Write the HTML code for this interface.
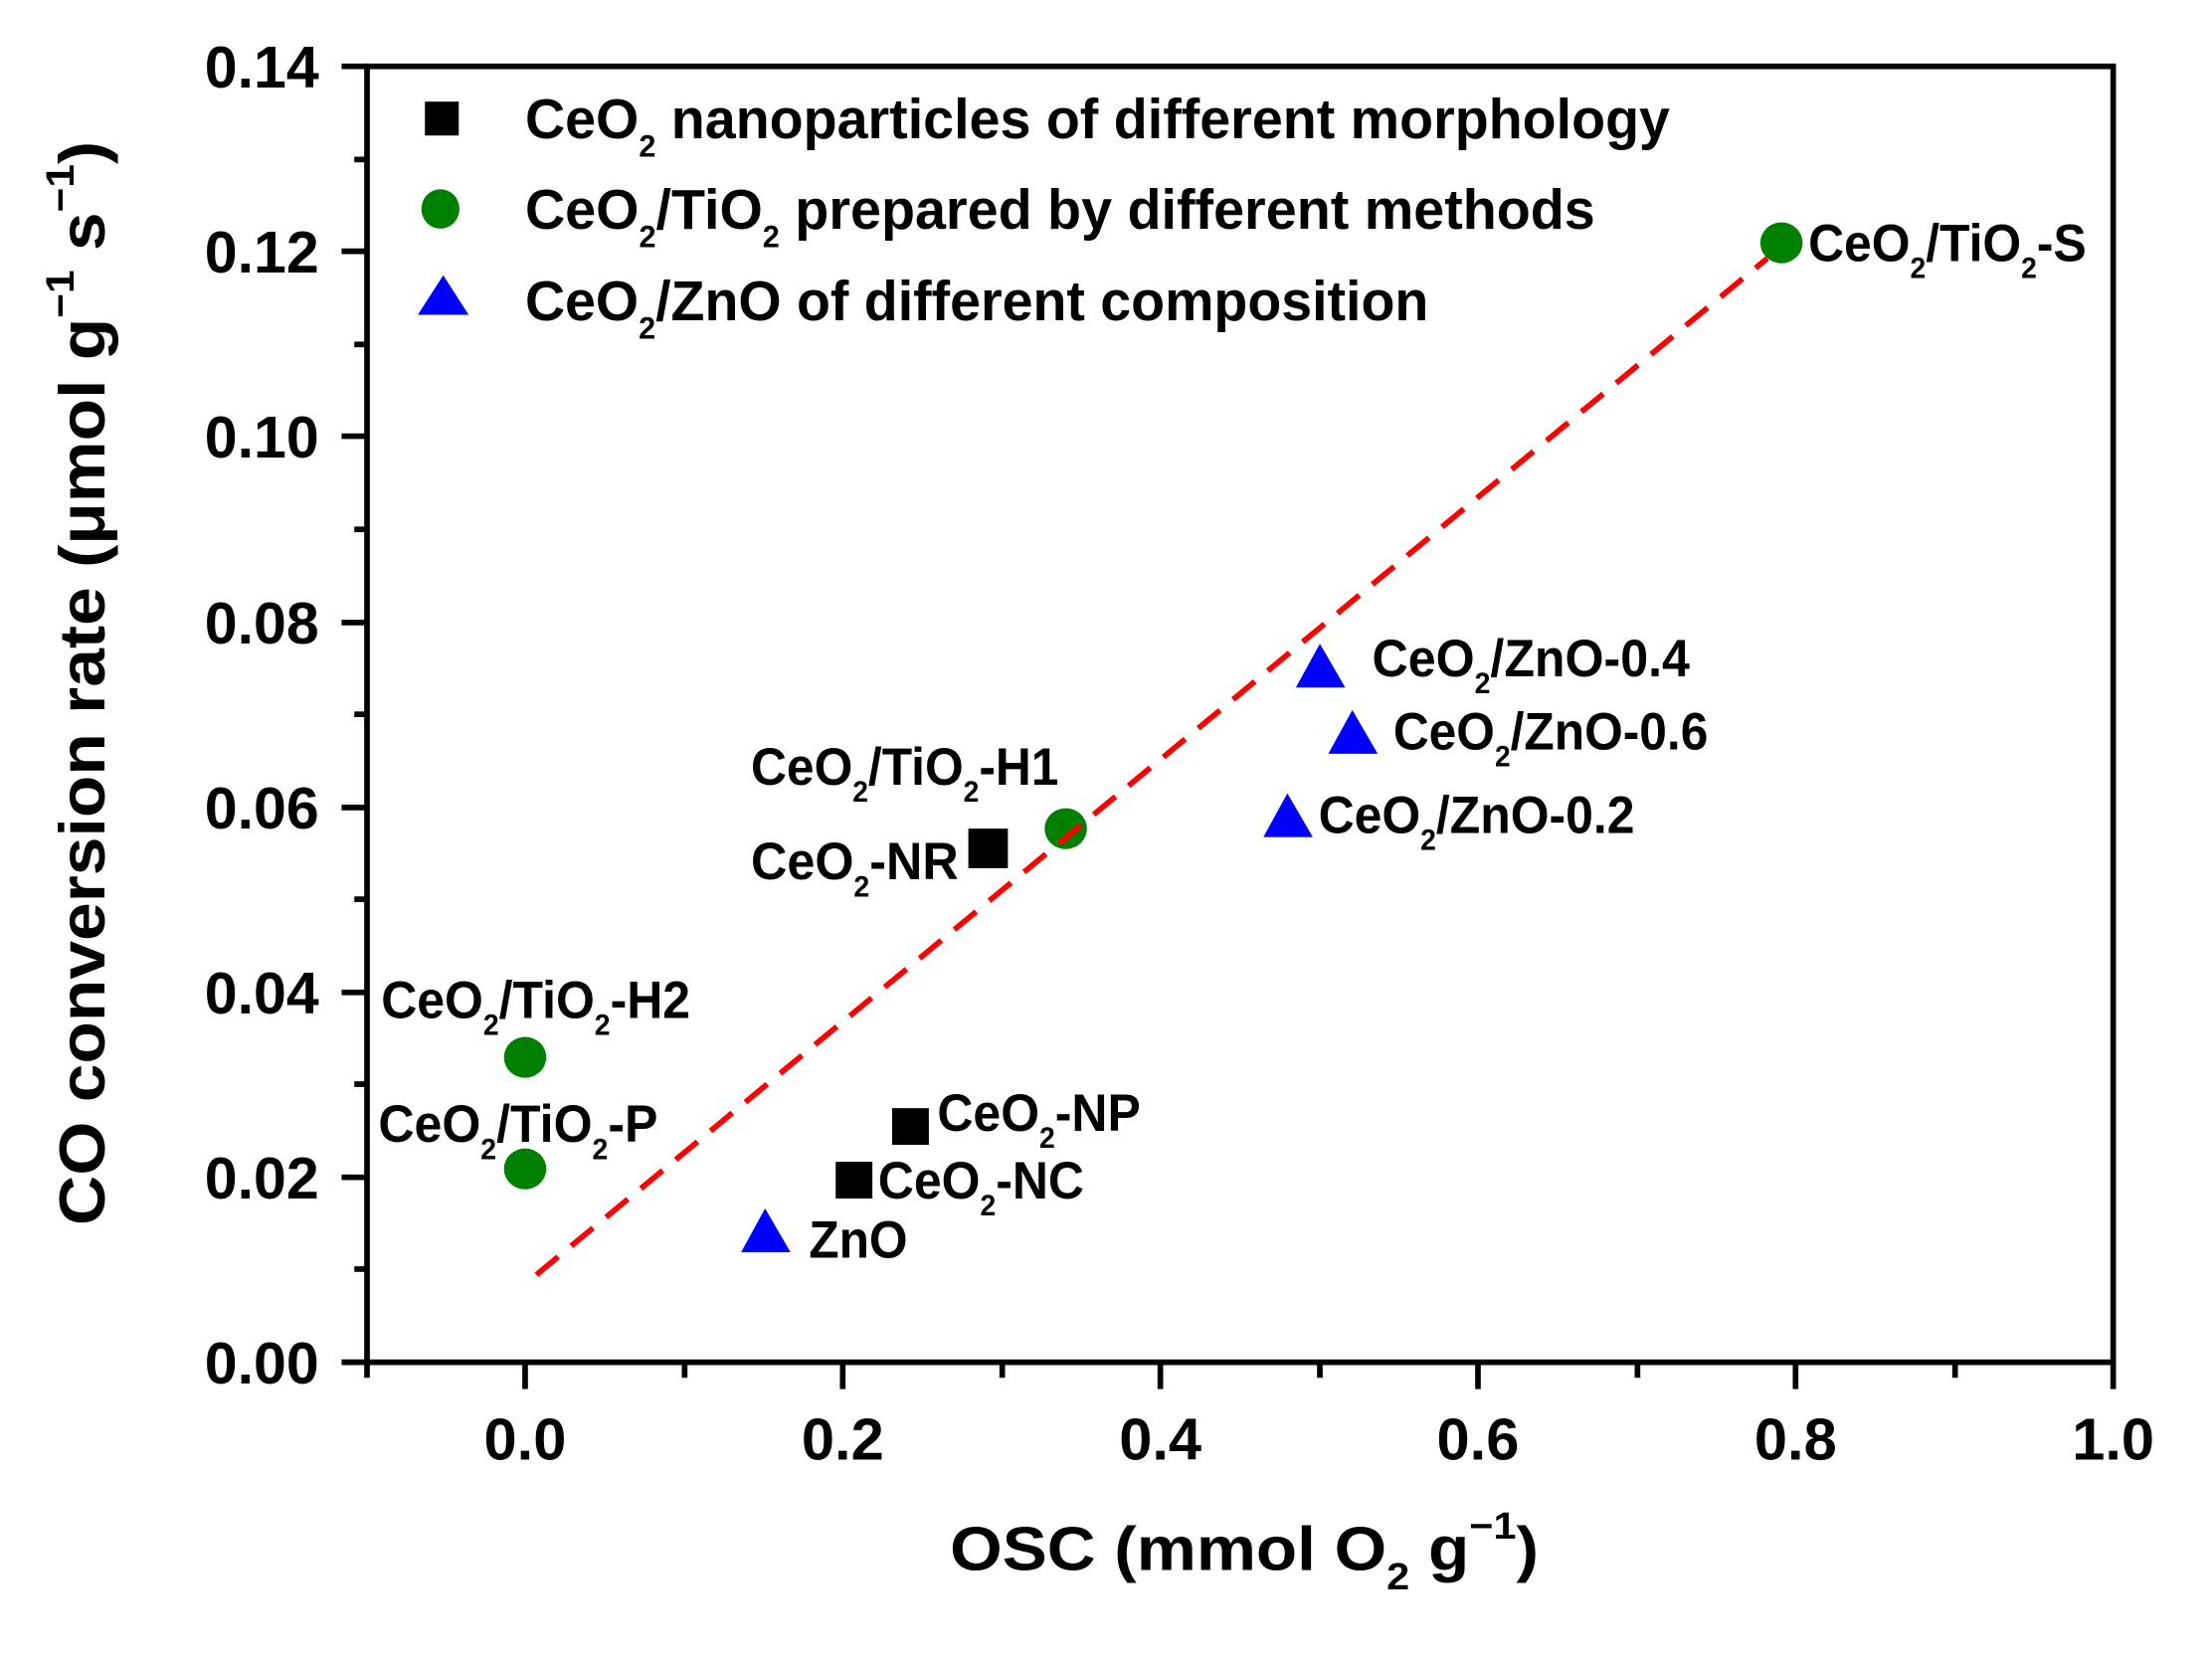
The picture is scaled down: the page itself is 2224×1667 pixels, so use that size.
<!DOCTYPE html>
<html><head><meta charset="utf-8"><style>
html,body{margin:0;padding:0;background:#fff}
svg{display:block}
text{font-family:"Liberation Sans",Arial,sans-serif;font-weight:bold;fill:#000}
</style></head><body>
<svg width="2224" height="1667" viewBox="0 0 1567 1174.5" preserveAspectRatio="none" xmlns="http://www.w3.org/2000/svg">
<rect width="1567" height="1175" fill="#fff"/>
<rect x="260" y="47" width="1237" height="918" fill="none" stroke="#000" stroke-width="4"/>
<g stroke="#000" stroke-width="4">
<line x1="242" y1="965" x2="260" y2="965"/>
<line x1="242" y1="834" x2="260" y2="834"/>
<line x1="242" y1="703" x2="260" y2="703"/>
<line x1="242" y1="572" x2="260" y2="572"/>
<line x1="242" y1="441" x2="260" y2="441"/>
<line x1="242" y1="309" x2="260" y2="309"/>
<line x1="242" y1="178" x2="260" y2="178"/>
<line x1="242" y1="47" x2="260" y2="47"/>
<line x1="251" y1="899" x2="260" y2="899"/>
<line x1="251" y1="768" x2="260" y2="768"/>
<line x1="251" y1="637" x2="260" y2="637"/>
<line x1="251" y1="506" x2="260" y2="506"/>
<line x1="251" y1="375" x2="260" y2="375"/>
<line x1="251" y1="244" x2="260" y2="244"/>
<line x1="251" y1="113" x2="260" y2="113"/>
<line x1="372" y1="965" x2="372" y2="984"/>
<line x1="597" y1="965" x2="597" y2="984"/>
<line x1="822" y1="965" x2="822" y2="984"/>
<line x1="1047" y1="965" x2="1047" y2="984"/>
<line x1="1272" y1="965" x2="1272" y2="984"/>
<line x1="1497" y1="965" x2="1497" y2="984"/>
<line x1="260" y1="965" x2="260" y2="976"/>
<line x1="485" y1="965" x2="485" y2="976"/>
<line x1="710" y1="965" x2="710" y2="976"/>
<line x1="935" y1="965" x2="935" y2="976"/>
<line x1="1160" y1="965" x2="1160" y2="976"/>
<line x1="1385" y1="965" x2="1385" y2="976"/>
</g>
<g font-size="42" text-anchor="end" lengthAdjust="spacingAndGlyphs">
<text x="226" y="980" textLength="81" lengthAdjust="spacingAndGlyphs">0.00</text>
<text x="226" y="849" textLength="81" lengthAdjust="spacingAndGlyphs">0.02</text>
<text x="226" y="718" textLength="81" lengthAdjust="spacingAndGlyphs">0.04</text>
<text x="226" y="587" textLength="81" lengthAdjust="spacingAndGlyphs">0.06</text>
<text x="226" y="456" textLength="81" lengthAdjust="spacingAndGlyphs">0.08</text>
<text x="226" y="324" textLength="81" lengthAdjust="spacingAndGlyphs">0.10</text>
<text x="226" y="193" textLength="81" lengthAdjust="spacingAndGlyphs">0.12</text>
<text x="226" y="62" textLength="81" lengthAdjust="spacingAndGlyphs">0.14</text>
</g>
<g font-size="42" text-anchor="middle">
<text x="372" y="1034">0.0</text>
<text x="597" y="1034">0.2</text>
<text x="822" y="1034">0.4</text>
<text x="1047" y="1034">0.6</text>
<text x="1272" y="1034">0.8</text>
<text x="1497" y="1034">1.0</text>
</g>
<text x="673" y="1112" font-size="44" textLength="417" lengthAdjust="spacingAndGlyphs">OSC (mmol O<tspan font-size="27" dy="14">2</tspan><tspan dy="-14"> g</tspan><tspan font-size="27" dy="-22">−1</tspan><tspan dy="22">)</tspan></text>
<text transform="translate(74,868) rotate(-90)" font-size="46" textLength="768" lengthAdjust="spacingAndGlyphs">CO conversion rate (μmol g<tspan font-size="28" dy="-22">−1</tspan><tspan dy="22"> s</tspan><tspan font-size="28" dy="-22">−1</tspan><tspan dy="22">)</tspan></text>
<rect x="301" y="72" width="24" height="24" fill="#000"/>
<ellipse cx="312" cy="148" rx="13.5" ry="14" fill="#008000"/>
<polygon points="314,195 296,223 332,223" fill="#0000ff"/>
<g font-size="40">
<text x="372" y="98" textLength="811" lengthAdjust="spacingAndGlyphs">CeO<tspan font-size="22" dy="13">2</tspan><tspan dy="-13"> nanoparticles of different morphology</tspan></text>
<text x="372" y="162" textLength="758" lengthAdjust="spacingAndGlyphs">CeO<tspan font-size="22" dy="13">2</tspan><tspan dy="-13">/TiO</tspan><tspan font-size="22" dy="13">2</tspan><tspan dy="-13"> prepared by different methods</tspan></text>
<text x="372" y="227" textLength="640" lengthAdjust="spacingAndGlyphs">CeO<tspan font-size="22" dy="13">2</tspan><tspan dy="-13">/ZnO of different composition</tspan></text>
</g>
<g fill="#000">
<rect x="686" y="587" width="28" height="28"/>
<rect x="632" y="785" width="26" height="26"/>
<rect x="592" y="823" width="26" height="26"/>
</g>
<g fill="#008000">
<ellipse cx="1262" cy="172" rx="15" ry="14.5"/>
<ellipse cx="755" cy="587" rx="15" ry="14.5"/>
<ellipse cx="372" cy="749" rx="15" ry="14.5"/>
<ellipse cx="372" cy="828" rx="15" ry="14.5"/>
</g>
<g fill="#0000ff">
<polygon points="935,456 918,487 953,487"/>
<polygon points="958,503 941,534 976,534"/>
<polygon points="912,562 895,593 930,593"/>
<polygon points="542,856 525,887 560,887"/>
</g>
<line x1="380" y1="903" x2="1252" y2="183" stroke="#ff0000" stroke-width="4" stroke-dasharray="20,12"/>
<g font-size="37">
<text x="1281" y="185" textLength="197" lengthAdjust="spacingAndGlyphs">CeO<tspan font-size="21" dy="12">2</tspan><tspan dy="-12">/TiO</tspan><tspan font-size="21" dy="12">2</tspan><tspan dy="-12">-S</tspan></text>
<text x="972" y="479" textLength="225" lengthAdjust="spacingAndGlyphs">CeO<tspan font-size="21" dy="12">2</tspan><tspan dy="-12">/ZnO-0.4</tspan></text>
<text x="987" y="531" textLength="223" lengthAdjust="spacingAndGlyphs">CeO<tspan font-size="21" dy="12">2</tspan><tspan dy="-12">/ZnO-0.6</tspan></text>
<text x="934" y="590" textLength="224" lengthAdjust="spacingAndGlyphs">CeO<tspan font-size="21" dy="12">2</tspan><tspan dy="-12">/ZnO-0.2</tspan></text>
<text x="532" y="556" textLength="218" lengthAdjust="spacingAndGlyphs">CeO<tspan font-size="21" dy="12">2</tspan><tspan dy="-12">/TiO</tspan><tspan font-size="21" dy="12">2</tspan><tspan dy="-12">-H1</tspan></text>
<text x="532" y="623" textLength="147" lengthAdjust="spacingAndGlyphs">CeO<tspan font-size="21" dy="12">2</tspan><tspan dy="-12">-NR</tspan></text>
<text x="270" y="721" textLength="219" lengthAdjust="spacingAndGlyphs">CeO<tspan font-size="21" dy="12">2</tspan><tspan dy="-12">/TiO</tspan><tspan font-size="21" dy="12">2</tspan><tspan dy="-12">-H2</tspan></text>
<text x="268" y="809" textLength="198" lengthAdjust="spacingAndGlyphs">CeO<tspan font-size="21" dy="12">2</tspan><tspan dy="-12">/TiO</tspan><tspan font-size="21" dy="12">2</tspan><tspan dy="-12">-P</tspan></text>
<text x="664" y="801" textLength="144" lengthAdjust="spacingAndGlyphs">CeO<tspan font-size="21" dy="12">2</tspan><tspan dy="-12">-NP</tspan></text>
<text x="622" y="849" textLength="146" lengthAdjust="spacingAndGlyphs">CeO<tspan font-size="21" dy="12">2</tspan><tspan dy="-12">-NC</tspan></text>
<text x="573" y="891" textLength="70" lengthAdjust="spacingAndGlyphs">ZnO</text>
</g>
</svg>
</body></html>
